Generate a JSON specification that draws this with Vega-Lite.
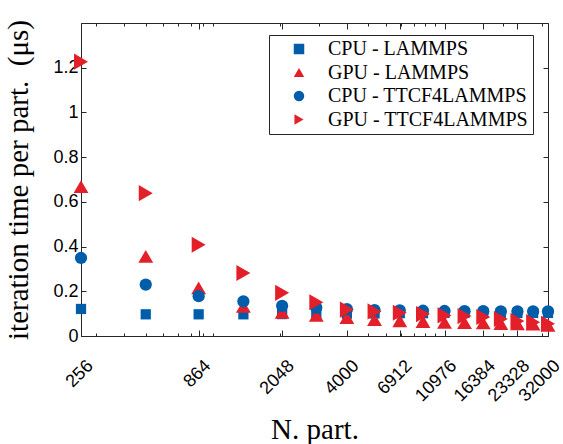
{
  "$schema": "https://vega.github.io/schema/vega-lite/v6.json",
  "width": 467,
  "height": 313,
  "autosize": {"type": "none"},
  "padding": {"left": 81, "top": 23, "right": 15, "bottom": 108},
  "background": "white",
  "config": {
    "view": {"stroke": null},
    "axis": {
      "grid": false,
      "domainColor": "#262626",
      "domainWidth": 1,
      "tickColor": "#262626",
      "tickWidth": 1,
      "labelColor": "black",
      "labelFont": "Liberation Sans",
      "labelFontSize": 18,
      "titleColor": "black",
      "titleFont": "Liberation Serif",
      "titleFontSize": 29,
      "titleFontWeight": "normal"
    }
  },
  "data": {
    "values": [
      {"n": 256, "series": "CPU - LAMMPS", "t": 0.121},
      {"n": 500, "series": "CPU - LAMMPS", "t": 0.097},
      {"n": 864, "series": "CPU - LAMMPS", "t": 0.097},
      {"n": 1372, "series": "CPU - LAMMPS", "t": 0.097},
      {"n": 2048, "series": "CPU - LAMMPS", "t": 0.098},
      {"n": 2916, "series": "CPU - LAMMPS", "t": 0.099},
      {"n": 4000, "series": "CPU - LAMMPS", "t": 0.1},
      {"n": 5324, "series": "CPU - LAMMPS", "t": 0.101},
      {"n": 6912, "series": "CPU - LAMMPS", "t": 0.102},
      {"n": 8788, "series": "CPU - LAMMPS", "t": 0.102},
      {"n": 10976, "series": "CPU - LAMMPS", "t": 0.103},
      {"n": 13500, "series": "CPU - LAMMPS", "t": 0.103},
      {"n": 16384, "series": "CPU - LAMMPS", "t": 0.103},
      {"n": 19652, "series": "CPU - LAMMPS", "t": 0.103},
      {"n": 23328, "series": "CPU - LAMMPS", "t": 0.103},
      {"n": 27436, "series": "CPU - LAMMPS", "t": 0.103},
      {"n": 32000, "series": "CPU - LAMMPS", "t": 0.103},

      {"n": 256, "series": "GPU - LAMMPS", "t": 0.668},
      {"n": 500, "series": "GPU - LAMMPS", "t": 0.356},
      {"n": 864, "series": "GPU - LAMMPS", "t": 0.215},
      {"n": 1372, "series": "GPU - LAMMPS", "t": 0.133},
      {"n": 2048, "series": "GPU - LAMMPS", "t": 0.106},
      {"n": 2916, "series": "GPU - LAMMPS", "t": 0.092},
      {"n": 4000, "series": "GPU - LAMMPS", "t": 0.082},
      {"n": 5324, "series": "GPU - LAMMPS", "t": 0.073},
      {"n": 6912, "series": "GPU - LAMMPS", "t": 0.068},
      {"n": 8788, "series": "GPU - LAMMPS", "t": 0.065},
      {"n": 10976, "series": "GPU - LAMMPS", "t": 0.061},
      {"n": 13500, "series": "GPU - LAMMPS", "t": 0.06},
      {"n": 16384, "series": "GPU - LAMMPS", "t": 0.059},
      {"n": 19652, "series": "GPU - LAMMPS", "t": 0.056},
      {"n": 23328, "series": "GPU - LAMMPS", "t": 0.055},
      {"n": 27436, "series": "GPU - LAMMPS", "t": 0.053},
      {"n": 32000, "series": "GPU - LAMMPS", "t": 0.048},

      {"n": 256, "series": "CPU - TTCF4LAMMPS", "t": 0.349},
      {"n": 500, "series": "CPU - TTCF4LAMMPS", "t": 0.23},
      {"n": 864, "series": "CPU - TTCF4LAMMPS", "t": 0.178},
      {"n": 1372, "series": "CPU - TTCF4LAMMPS", "t": 0.155},
      {"n": 2048, "series": "CPU - TTCF4LAMMPS", "t": 0.135},
      {"n": 2916, "series": "CPU - TTCF4LAMMPS", "t": 0.127},
      {"n": 4000, "series": "CPU - TTCF4LAMMPS", "t": 0.12},
      {"n": 5324, "series": "CPU - TTCF4LAMMPS", "t": 0.116},
      {"n": 6912, "series": "CPU - TTCF4LAMMPS", "t": 0.115},
      {"n": 8788, "series": "CPU - TTCF4LAMMPS", "t": 0.113},
      {"n": 10976, "series": "CPU - TTCF4LAMMPS", "t": 0.112},
      {"n": 13500, "series": "CPU - TTCF4LAMMPS", "t": 0.111},
      {"n": 16384, "series": "CPU - TTCF4LAMMPS", "t": 0.111},
      {"n": 19652, "series": "CPU - TTCF4LAMMPS", "t": 0.11},
      {"n": 23328, "series": "CPU - TTCF4LAMMPS", "t": 0.11},
      {"n": 27436, "series": "CPU - TTCF4LAMMPS", "t": 0.11},
      {"n": 32000, "series": "CPU - TTCF4LAMMPS", "t": 0.11},

      {"n": 256, "series": "GPU - TTCF4LAMMPS", "t": 1.227},
      {"n": 500, "series": "GPU - TTCF4LAMMPS", "t": 0.639},
      {"n": 864, "series": "GPU - TTCF4LAMMPS", "t": 0.408},
      {"n": 1372, "series": "GPU - TTCF4LAMMPS", "t": 0.282},
      {"n": 2048, "series": "GPU - TTCF4LAMMPS", "t": 0.193},
      {"n": 2916, "series": "GPU - TTCF4LAMMPS", "t": 0.151},
      {"n": 4000, "series": "GPU - TTCF4LAMMPS", "t": 0.118},
      {"n": 5324, "series": "GPU - TTCF4LAMMPS", "t": 0.11},
      {"n": 6912, "series": "GPU - TTCF4LAMMPS", "t": 0.104},
      {"n": 8788, "series": "GPU - TTCF4LAMMPS", "t": 0.098},
      {"n": 10976, "series": "GPU - TTCF4LAMMPS", "t": 0.092},
      {"n": 13500, "series": "GPU - TTCF4LAMMPS", "t": 0.089},
      {"n": 16384, "series": "GPU - TTCF4LAMMPS", "t": 0.085},
      {"n": 19652, "series": "GPU - TTCF4LAMMPS", "t": 0.076},
      {"n": 23328, "series": "GPU - TTCF4LAMMPS", "t": 0.067},
      {"n": 27436, "series": "GPU - TTCF4LAMMPS", "t": 0.062},
      {"n": 32000, "series": "GPU - TTCF4LAMMPS", "t": 0.055}
    ]
  },
  "layer": [
    {
      "mark": {"type": "point", "filled": true, "opacity": 1, "strokeWidth": 0},
      "encoding": {
        "x": {
          "field": "n",
          "type": "quantitative",
          "scale": {"type": "log", "domain": [256, 32000], "nice": false},
          "axis": {
            "orient": "bottom",
            "values": [256, 300, 400, 500, 600, 700, 800, 864, 900, 1000, 2000, 2048, 3000, 4000, 5000, 6000, 6912, 7000, 8000, 9000, 10000, 10976, 16384, 20000, 23328, 30000, 32000],
            "labelExpr": "indexof([256, 864, 2048, 4000, 6912, 10976, 16384, 23328, 32000], datum.value) >= 0 ? '' + datum.value : ''",
            "labelAngle": -45,
            "labelAlign": "right",
            "labelBaseline": "middle",
            "labelOverlap": false,
            "labelFlush": false,
            "labelPadding": 33,
            "labelOffset": 9,
            "tickSize": {"condition": {"test": "indexof([256, 864, 2048, 4000, 6912, 10976, 16384, 23328, 32000], datum.value) >= 0", "value": -6}, "value": -3},
            "title": "N. part.",
            "titleY": 102,
            "titleBaseline": "alphabetic"
          }
        },
        "y": {
          "field": "t",
          "type": "quantitative",
          "scale": {"domain": [0, 1.4], "nice": false},
          "axis": {
            "orient": "left",
            "values": [0, 0.2, 0.4, 0.6, 0.8, 1, 1.2],
            "format": "~g",
            "tickSize": -5,
            "labelPadding": 8,
            "title": "iteration time per part.\u00a0 (μs)",
            "titleX": -54,
            "titleBaseline": "alphabetic"
          }
        },
        "color": {
          "field": "series",
          "type": "nominal",
          "sort": null,
          "scale": {
            "domain": ["CPU - LAMMPS", "GPU - LAMMPS", "CPU - TTCF4LAMMPS", "GPU - TTCF4LAMMPS"],
            "range": ["#005daa", "#e3202a", "#005daa", "#e3202a"]
          },
          "legend": {
            "title": null,
            "orient": "none",
            "legendX": 188,
            "legendY": 12,
            "direction": "vertical",
            "strokeColor": "#262626",
            "fillColor": "white",
            "padding": 4,
            "labelFont": "Liberation Serif",
            "labelFontSize": 20,
            "labelColor": "black",
            "labelLimit": 0,
            "symbolSize": 110,
            "symbolOffset": 16,
            "symbolStrokeWidth": 0,
            "labelOffset": 19,
            "rowPadding": 3.5
          }
        },
        "shape": {
          "field": "series",
          "type": "nominal",
          "sort": null,
          "scale": {
            "domain": ["CPU - LAMMPS", "GPU - LAMMPS", "CPU - TTCF4LAMMPS", "GPU - TTCF4LAMMPS"],
            "range": ["square", "triangle-up", "circle", "triangle-right"]
          },
          "legend": {
            "title": null,
            "orient": "none",
            "legendX": 188,
            "legendY": 12,
            "direction": "vertical",
            "strokeColor": "#262626",
            "fillColor": "white",
            "padding": 4,
            "labelFont": "Liberation Serif",
            "labelFontSize": 20,
            "labelColor": "black",
            "labelLimit": 0,
            "symbolSize": 110,
            "symbolOffset": 16,
            "symbolStrokeWidth": 0,
            "labelOffset": 19,
            "rowPadding": 3.5
          }
        },
        "size": {
          "condition": [
            {"test": "datum.series === 'CPU - LAMMPS'", "value": 105},
            {"test": "datum.series === 'GPU - LAMMPS'", "value": 220},
            {"test": "datum.series === 'GPU - TTCF4LAMMPS'", "value": 260}
          ],
          "value": 150
        }
      }
    },
    {
      "mark": {"type": "point", "opacity": 0},
      "encoding": {
        "x": {
          "field": "n",
          "type": "quantitative",
          "axis": {
            "orient": "top",
            "values": [256, 300, 400, 500, 600, 700, 800, 864, 900, 1000, 2000, 2048, 3000, 4000, 5000, 6000, 6912, 7000, 8000, 9000, 10000, 10976, 16384, 20000, 23328, 30000, 32000],
            "labels": false,
            "title": null,
            "tickSize": {"condition": {"test": "indexof([256, 864, 2048, 4000, 6912, 10976, 16384, 23328, 32000], datum.value) >= 0", "value": -6}, "value": -3}
          }
        },
        "y": {
          "field": "t",
          "type": "quantitative",
          "axis": {
            "orient": "right",
            "values": [0, 0.2, 0.4, 0.6, 0.8, 1, 1.2],
            "labels": false,
            "title": null,
            "tickSize": -5
          }
        }
      }
    }
  ],
  "resolve": {"axis": {"x": "independent", "y": "independent"}}
}
